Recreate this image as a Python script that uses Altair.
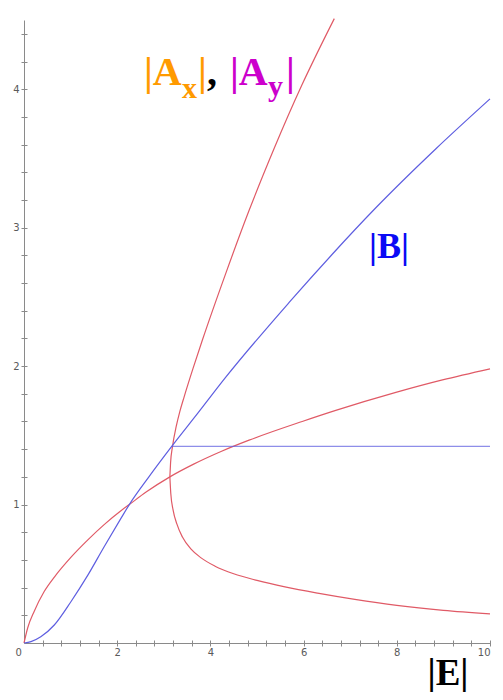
import altair as alt
import pandas as pd

# |A| curve that rises smoothly from the origin
E_a1 = [0, 0.08, 0.22, 0.43, 0.66, 1.01, 1.37, 1.72, 2.08, 2.26, 2.62, 3.13, 3.63,
        4.24, 4.83, 5.97, 6.69, 7.98, 8.98, 10.0]
A_a1 = [0, 0.11, 0.23, 0.37, 0.48, 0.62, 0.745, 0.855, 0.955, 1.0, 1.09, 1.20, 1.29,
        1.385, 1.465, 1.60, 1.68, 1.81, 1.90, 1.98]

# |A| second curve: upper branch (from the turning point upwards)
E_a2_up = [3.13, 3.145, 3.187, 3.27, 3.342, 3.438, 3.624, 3.83, 4.33, 4.825, 5.365,
           5.963, 6.659]
A_a2_up = [1.20, 1.30, 1.42, 1.57, 1.67, 1.78, 1.98, 2.19, 2.67, 3.12, 3.57, 4.03,
           4.51]

# |A| second curve: lower branch (from the turning point downwards)
E_a2_lo = [3.13, 3.15, 3.20, 3.28, 3.40, 3.58, 3.80, 4.10, 4.50, 5.00, 5.60, 6.30,
           7.10, 8.00, 9.00, 10.0]
A_a2_lo = [1.20, 1.08, 0.96, 0.86, 0.765, 0.68, 0.615, 0.555, 0.50, 0.452, 0.405,
           0.36, 0.315, 0.272, 0.236, 0.21]

# |B| curve
E_b = [0, 0.15, 0.36, 0.65, 1.01, 1.37, 1.72, 2.08, 2.26, 2.68, 3.17, 3.73, 4.33,
       5.69, 6.62, 7.54, 8.84, 10.0]
B_b = [0, 0.01, 0.045, 0.13, 0.30, 0.49, 0.695, 0.90, 1.0, 1.20, 1.42, 1.66, 1.92,
       2.46, 2.81, 3.14, 3.57, 3.93]

# |B| flat branch
E_bflat = [3.17, 10.0]
B_bflat = [1.42, 1.42]

x_major = [0, 2, 4, 6, 8, 10]
y_major = [0, 1, 2, 3, 4]
x_ticks = [0.4, 0.8, 1.2, 1.6, 2.0, 2.4, 2.8, 3.2, 3.6, 4.0, 4.4, 4.8, 5.2, 5.6, 6.0,
           6.4, 6.8, 7.2, 7.6, 8.0, 8.4, 8.8, 9.2, 9.6, 10.0]
y_ticks = [0.2, 0.4, 0.6, 0.8, 1.0, 1.2, 1.4, 1.6, 1.8, 2.0, 2.2, 2.4, 2.6, 2.8, 3.0,
           3.2, 3.4, 3.6, 3.8, 4.0, 4.2, 4.4]

RED = "#e05a66"
BLUE = "#5e5ee0"
AXIS = "#8a8a8a"


def frame(e, v):
    return pd.DataFrame({"E": e, "V": v, "i": list(range(len(e)))})


xs = alt.Scale(domain=[0, 10], nice=False, zero=False)
ys = alt.Scale(domain=[0, 4.5], nice=False, zero=False)

x_main = alt.Axis(orient="bottom", values=x_major, ticks=False, grid=False,
                  domainColor=AXIS, domainWidth=1, labelFont="DejaVu Sans",
                  labelFontSize=10, labelColor="#5a5a5a", labelPadding=4,
                  labelOffset={"condition": {"test": "datum.value == 0", "value": -9},
                               "value": 0},
                  title=None)
y_main = alt.Axis(orient="left", values=y_major, ticks=False, grid=False,
                  domainColor=AXIS, domainWidth=1, labelFont="DejaVu Sans",
                  labelFontSize=10, labelColor="#5a5a5a", labelPadding=5,
                  labelExpr="datum.value == 0 ? '' : datum.label", title=None)
x_tick_axis = alt.Axis(orient="bottom", values=x_ticks, labels=False, domain=False,
                       grid=False, ticks=True, tickSize=6, offset=-3,
                       tickColor=AXIS, title=None)
y_tick_axis = alt.Axis(orient="left", values=y_ticks, labels=False, domain=False,
                       grid=False, ticks=True, tickSize=6, offset=-3,
                       tickColor=AXIS, title=None)


def curve(e, v, color, xaxis=None, yaxis=None, interp="monotone", opacity=1.0):
    return alt.Chart(frame(e, v)).mark_line(
        color=color, strokeWidth=1.2, interpolate=interp, clip=False, opacity=opacity
    ).encode(
        x=alt.X("E:Q", scale=xs, axis=xaxis),
        y=alt.Y("V:Q", scale=ys, axis=yaxis),
        order="i:Q",
    )


a1 = curve(E_a1, A_a1, RED, x_main, y_main)
a2u = curve(E_a2_up, A_a2_up, RED, x_tick_axis, y_tick_axis)
a2l = curve(E_a2_lo, A_a2_lo, RED)
b1 = curve(E_b, B_b, BLUE)
b2 = curve(E_bflat, B_bflat, BLUE, interp="linear", opacity=0.7)


def label(txt, x, y, color, size, align="left"):
    return alt.Chart(pd.DataFrame({"t": [txt]})).mark_text(
        align=align, baseline="alphabetic", font="Liberation Serif",
        fontWeight="bold", fontSize=size, color=color,
    ).encode(text="t:N", x=alt.value(x), y=alt.value(y))


ORANGE = "#ff9a00"
MAGENTA = "#cc00cc"

texts = [
    label("|A", 120, 65, ORANGE, 40),
    label("x", 158, 78, ORANGE, 30),
    label("|", 174, 65, ORANGE, 40),
    label(",", 183, 65, "black", 40),
    label("|A", 206, 65, MAGENTA, 40),
    label("y", 244, 76, MAGENTA, 30),
    label("|", 262, 65, MAGENTA, 40),
    label("|B|", 345, 238, "#0a0af5", 36),
    label("|E|", 424, 665, "black", 37, align="center"),
]

chart = alt.layer(a1, a2u, a2l, b1, b2, *texts).resolve_axis(
    x="independent", y="independent"
).properties(
    width=466, height=623,
    padding={"left": 16, "top": 12, "right": 5, "bottom": 49},
    autosize=alt.AutoSizeParams(type="none"),
).configure_view(stroke=None)

chart.save("out.html", embed_options={"renderer": "svg", "actions": False})
